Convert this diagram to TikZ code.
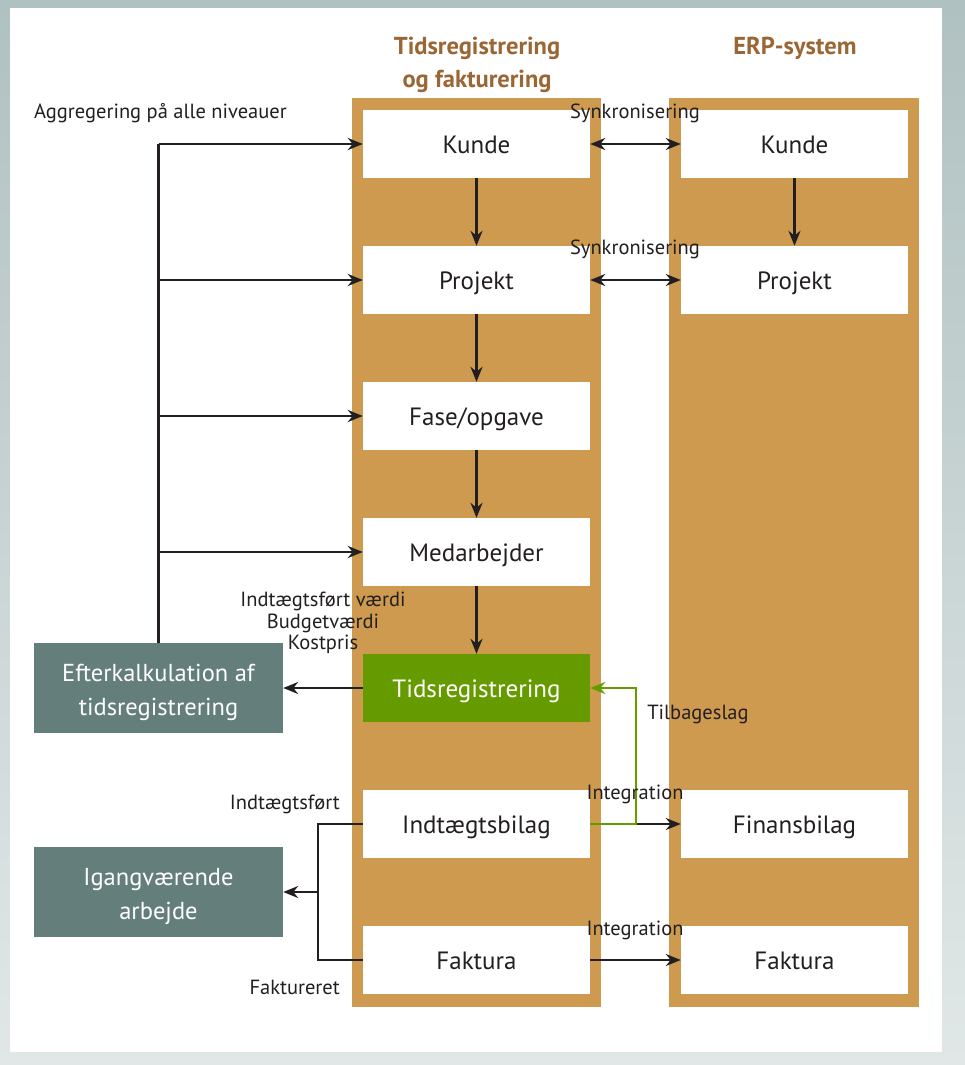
\documentclass[tikz,border=0pt]{standalone}
\usepackage{fontspec}
\setmainfont{PT Sans}
\usetikzlibrary{arrows.meta}
\definecolor{colfill}{HTML}{CE9A50}
\definecolor{bgtop}{HTML}{B0C1C1}
\definecolor{bgbot}{HTML}{E1E7E7}
\definecolor{grbox}{HTML}{647E7B}
\definecolor{grn}{HTML}{669B00}
\definecolor{titlec}{HTML}{9A6634}
\definecolor{txt}{HTML}{231F20}
\tikzset{
  box/.style={fill=white, minimum width=227pt, minimum height=68pt, inner sep=0pt, text height=21pt, text depth=2pt, text=txt, font=\fontsize{25}{28}\selectfont},
  gbox/.style={fill=grbox, minimum width=249pt, minimum height=90pt, inner sep=0pt, text height=56pt, text depth=1pt, text=white, align=center, font=\fontsize{24.5}{34}\selectfont},
  lbl/.style={inner sep=0pt, text=txt, font=\fontsize{20.5}{21.5}\selectfont},
  ttl/.style={inner sep=0pt, text=titlec, align=center, font=\bfseries\fontsize{24.5}{33}\selectfont},
  ln/.style={draw=txt, line width=2.4pt},
  arr/.style={ln, -{Stealth[length=15pt,width=12pt]}},
  darr/.style={ln, {Stealth[length=15pt,width=12pt]}-{Stealth[length=15pt,width=12pt]}},
  garr/.style={draw=grn, line width=2.4pt, -{Stealth[length=15pt,width=12pt]}}
}
\begin{document}
\begin{tikzpicture}[x=1pt,y=-1pt]
\shade[top color=bgtop, bottom color=bgbot] (0,0) rectangle (965,1065);
\fill[white] (10,8) rectangle (942,1052);
\fill[colfill] (352,98) rectangle (601,1007);
\fill[colfill] (669,98) rectangle (919,1007);

\node[ttl] (t1) at (477,64.5) {Tidsregistrering\\og fakturering};
\node[ttl] (t2) at (795,48.5) {ERP-system};

\node[box] (k1) at (476.5,144) {Kunde};
\node[box] (p1) at (476.5,280) {Projekt};
\node[box] (f1) at (476.5,416) {Fase/opgave};
\node[box] (m1) at (476.5,552) {Medarbejder};
\node[box, fill=grn, text=white] (tr) at (476.5,688) {Tidsregistrering};
\node[box] (ib) at (476.5,824) {Indtægtsbilag};
\node[box] (fa) at (476.5,960) {Faktura};

\node[box] (k2) at (794.5,144) {Kunde};
\node[box] (p2) at (794.5,280) {Projekt};
\node[box] (fb) at (794.5,824) {Finansbilag};
\node[box] (fa2) at (794.5,960) {Faktura};

\node[gbox] (ek) at (158.5,688) {Efterkalkulation af\\tidsregistrering};
\node[gbox] (ig) at (158.5,892) {Igangværende\\arbejde};

% vertical flow
\draw[arr] (k1) -- (p1);
\draw[arr] (p1) -- (f1);
\draw[arr] (f1) -- (m1);
\draw[arr] (m1) -- (tr);
\draw[arr] (k2) -- (p2);

% synchronisation
\draw[darr] (k1.east) -- (k2.west);
\draw[darr] (p1.east) -- (p2.west);
\node[lbl] (s1) at (635,113) {Synkronisering};
\node[lbl] (s2) at (635,249) {Synkronisering};

% aggregation
\draw[ln] (ek.north) -- (ek.north |- k1.west);
\draw[arr] (ek.north |- k1.west) -- (k1.west);
\draw[arr] (ek.north |- p1.west) -- (p1.west);
\draw[arr] (ek.north |- f1.west) -- (f1.west);
\draw[arr] (ek.north |- m1.west) -- (m1.west);
\node[lbl, anchor=west] (ag) at (34,113) {Aggregering på alle niveauer};

% efterkalkulation
\draw[arr] (tr.west) -- (ek.east);
\node[lbl, align=center] (iv) at (323,623) {Indtægtsført værdi\\Budgetværdi\\Kostpris};

% integration
\draw[arr] (ib.east) -- (fb.west);
\draw[arr] (fa.east) -- (fa2.west);
\coordinate (tb) at (636,824);
\draw[garr] (ib.east) -- (tb) |- (tr.east);
\node[lbl] (tl) at (698,714) {Tilbageslag};
\node[lbl] (i1) at (635,794) {Integration};
\node[lbl] (i2) at (635,930) {Integration};

% bracket
\coordinate (br) at (318,892);
\draw[ln] (ib.west) -- (ib.west -| br) -- (fa.west -| br) -- (fa.west);
\draw[arr] (br) -- (ig.east);
\node[lbl, anchor=east] (l1) at (340,804) {Indtægtsført};
\node[lbl, anchor=east] (l2) at (340,987) {Faktureret};
\end{tikzpicture}
\end{document}
